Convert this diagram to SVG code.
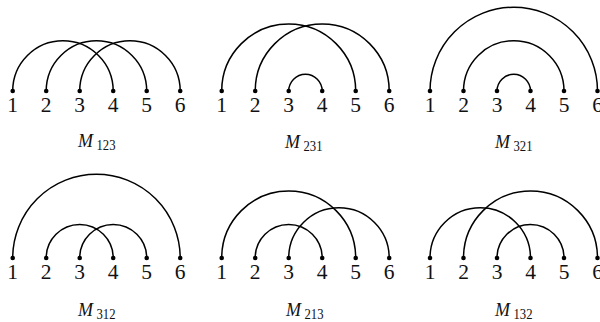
<svg xmlns="http://www.w3.org/2000/svg" width="600" height="322" viewBox="0 0 600 322">
<style>
.arc{fill:none;stroke:#000;stroke-width:1.5}
.dot{fill:#000}
.num{font-family:"Liberation Serif","Times New Roman",serif;font-size:21.5px;text-anchor:middle;fill:#111}
.m{font-family:"Liberation Serif","Times New Roman",serif;font-size:18px;font-style:italic;fill:#111}
.sub{font-family:"Liberation Serif","Times New Roman",serif;font-size:15px;font-style:normal}
</style>
<rect width="600" height="322" fill="#fff"/>
<!-- Panel M123 -->
<g id="panel-M123">
<g id="connectors-M123">
<path class="arc" d="M12.7 91 A50.25 50.25 0 0 1 113.2 91"/>
<path class="arc" d="M46.2 91 A50.25 50.25 0 0 1 146.7 91"/>
<path class="arc" d="M79.7 91 A50.25 50.25 0 0 1 180.2 91"/>
</g>
<g id="n123-1"><circle class="dot" cx="12.7" cy="91" r="2.3"/><text class="num" x="12.7" y="112">1</text></g>
<g id="n123-2"><circle class="dot" cx="46.2" cy="91" r="2.3"/><text class="num" x="46.2" y="112">2</text></g>
<g id="n123-3"><circle class="dot" cx="79.7" cy="91" r="2.3"/><text class="num" x="79.7" y="112">3</text></g>
<g id="n123-4"><circle class="dot" cx="113.2" cy="91" r="2.3"/><text class="num" x="113.2" y="112">4</text></g>
<g id="n123-5"><circle class="dot" cx="146.7" cy="91" r="2.3"/><text class="num" x="146.7" y="112">5</text></g>
<g id="n123-6"><circle class="dot" cx="180.2" cy="91" r="2.3"/><text class="num" x="180.2" y="112">6</text></g>
<text class="m" x="78" y="146.5">M<tspan class="sub" dx="3.5" dy="3" textLength="19" lengthAdjust="spacingAndGlyphs">123</tspan></text>
</g>
<!-- Panel M231 -->
<g id="panel-M231">
<g id="connectors-M231">
<path class="arc" d="M221.7 91 A67 67 0 0 1 355.7 91"/>
<path class="arc" d="M255.2 91 A67 67 0 0 1 389.2 91"/>
<path class="arc" d="M288.7 91 A16.75 16.75 0 0 1 322.2 91"/>
</g>
<g id="n231-1"><circle class="dot" cx="221.7" cy="91" r="2.3"/><text class="num" x="221.7" y="112">1</text></g>
<g id="n231-2"><circle class="dot" cx="255.2" cy="91" r="2.3"/><text class="num" x="255.2" y="112">2</text></g>
<g id="n231-3"><circle class="dot" cx="288.7" cy="91" r="2.3"/><text class="num" x="288.7" y="112">3</text></g>
<g id="n231-4"><circle class="dot" cx="322.2" cy="91" r="2.3"/><text class="num" x="322.2" y="112">4</text></g>
<g id="n231-5"><circle class="dot" cx="355.7" cy="91" r="2.3"/><text class="num" x="355.7" y="112">5</text></g>
<g id="n231-6"><circle class="dot" cx="389.2" cy="91" r="2.3"/><text class="num" x="389.2" y="112">6</text></g>
<text class="m" x="285" y="147.5">M<tspan class="sub" dx="3.5" dy="3" textLength="19" lengthAdjust="spacingAndGlyphs">231</tspan></text>
</g>
<!-- Panel M321 -->
<g id="panel-M321">
<g id="connectors-M321">
<path class="arc" d="M430 91 A83.75 83.75 0 0 1 597.5 91"/>
<path class="arc" d="M463.5 91 A50.25 50.25 0 0 1 564 91"/>
<path class="arc" d="M497 91 A16.75 16.75 0 0 1 530.5 91"/>
</g>
<g id="n321-1"><circle class="dot" cx="430" cy="91" r="2.3"/><text class="num" x="430" y="112">1</text></g>
<g id="n321-2"><circle class="dot" cx="463.5" cy="91" r="2.3"/><text class="num" x="463.5" y="112">2</text></g>
<g id="n321-3"><circle class="dot" cx="497" cy="91" r="2.3"/><text class="num" x="497" y="112">3</text></g>
<g id="n321-4"><circle class="dot" cx="530.5" cy="91" r="2.3"/><text class="num" x="530.5" y="112">4</text></g>
<g id="n321-5"><circle class="dot" cx="564" cy="91" r="2.3"/><text class="num" x="564" y="112">5</text></g>
<g id="n321-6"><circle class="dot" cx="597.5" cy="91" r="2.3"/><text class="num" x="597.5" y="112">6</text></g>
<text class="m" x="495" y="147.5">M<tspan class="sub" dx="3.5" dy="3" textLength="19" lengthAdjust="spacingAndGlyphs">321</tspan></text>
</g>
<!-- Panel M312 -->
<g id="panel-M312">
<g id="connectors-M312">
<path class="arc" d="M12.7 258 A83.75 83.75 0 0 1 180.2 258"/>
<path class="arc" d="M46.2 258 A33.5 33.5 0 0 1 113.2 258"/>
<path class="arc" d="M79.7 258 A33.5 33.5 0 0 1 146.7 258"/>
</g>
<g id="n312-1"><circle class="dot" cx="12.7" cy="258" r="2.3"/><text class="num" x="12.7" y="278.5">1</text></g>
<g id="n312-2"><circle class="dot" cx="46.2" cy="258" r="2.3"/><text class="num" x="46.2" y="278.5">2</text></g>
<g id="n312-3"><circle class="dot" cx="79.7" cy="258" r="2.3"/><text class="num" x="79.7" y="278.5">3</text></g>
<g id="n312-4"><circle class="dot" cx="113.2" cy="258" r="2.3"/><text class="num" x="113.2" y="278.5">4</text></g>
<g id="n312-5"><circle class="dot" cx="146.7" cy="258" r="2.3"/><text class="num" x="146.7" y="278.5">5</text></g>
<g id="n312-6"><circle class="dot" cx="180.2" cy="258" r="2.3"/><text class="num" x="180.2" y="278.5">6</text></g>
<text class="m" x="78" y="315.5">M<tspan class="sub" dx="3.5" dy="3" textLength="19" lengthAdjust="spacingAndGlyphs">312</tspan></text>
</g>
<!-- Panel M213 -->
<g id="panel-M213">
<g id="connectors-M213">
<path class="arc" d="M221.7 258 A67 67 0 0 1 355.7 258"/>
<path class="arc" d="M255.2 258 A33.5 33.5 0 0 1 322.2 258"/>
<path class="arc" d="M288.7 258 A50.25 50.25 0 0 1 389.2 258"/>
</g>
<g id="n213-1"><circle class="dot" cx="221.7" cy="258" r="2.3"/><text class="num" x="221.7" y="278.5">1</text></g>
<g id="n213-2"><circle class="dot" cx="255.2" cy="258" r="2.3"/><text class="num" x="255.2" y="278.5">2</text></g>
<g id="n213-3"><circle class="dot" cx="288.7" cy="258" r="2.3"/><text class="num" x="288.7" y="278.5">3</text></g>
<g id="n213-4"><circle class="dot" cx="322.2" cy="258" r="2.3"/><text class="num" x="322.2" y="278.5">4</text></g>
<g id="n213-5"><circle class="dot" cx="355.7" cy="258" r="2.3"/><text class="num" x="355.7" y="278.5">5</text></g>
<g id="n213-6"><circle class="dot" cx="389.2" cy="258" r="2.3"/><text class="num" x="389.2" y="278.5">6</text></g>
<text class="m" x="286" y="315.5">M<tspan class="sub" dx="3.5" dy="3" textLength="19" lengthAdjust="spacingAndGlyphs">213</tspan></text>
</g>
<!-- Panel M132 -->
<g id="panel-M132">
<g id="connectors-M132">
<path class="arc" d="M430 258 A50.25 50.25 0 0 1 530.5 258"/>
<path class="arc" d="M463.5 258 A67 67 0 0 1 597.5 258"/>
<path class="arc" d="M497 258 A33.5 33.5 0 0 1 564 258"/>
</g>
<g id="n132-1"><circle class="dot" cx="430" cy="258" r="2.3"/><text class="num" x="430" y="278.5">1</text></g>
<g id="n132-2"><circle class="dot" cx="463.5" cy="258" r="2.3"/><text class="num" x="463.5" y="278.5">2</text></g>
<g id="n132-3"><circle class="dot" cx="497" cy="258" r="2.3"/><text class="num" x="497" y="278.5">3</text></g>
<g id="n132-4"><circle class="dot" cx="530.5" cy="258" r="2.3"/><text class="num" x="530.5" y="278.5">4</text></g>
<g id="n132-5"><circle class="dot" cx="564" cy="258" r="2.3"/><text class="num" x="564" y="278.5">5</text></g>
<g id="n132-6"><circle class="dot" cx="597.5" cy="258" r="2.3"/><text class="num" x="597.5" y="278.5">6</text></g>
<text class="m" x="495" y="315.5">M<tspan class="sub" dx="3.5" dy="3" textLength="19" lengthAdjust="spacingAndGlyphs">132</tspan></text>
</g>
</svg>
